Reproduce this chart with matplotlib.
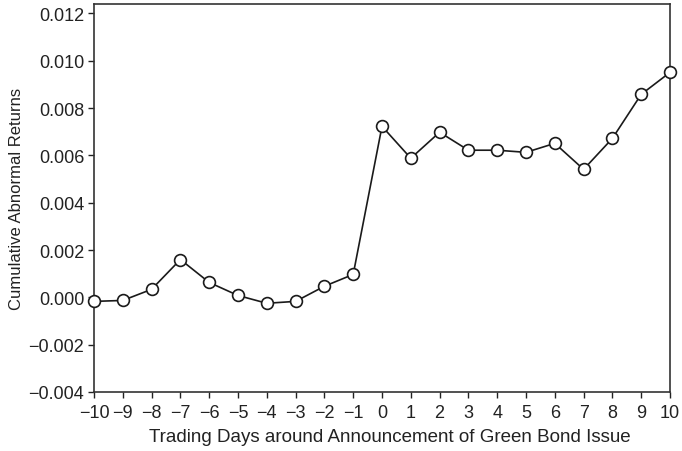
import matplotlib
matplotlib.use("Agg")
import matplotlib.pyplot as plt

days = list(range(-10, 11))
car = [-0.00017, -0.00013, 0.00034, 0.0016, 0.00063, 0.00008, -0.00025, -0.00017,
       0.00047, 0.00097, 0.00723, 0.00588, 0.00698, 0.00622, 0.00622, 0.00613,
       0.00651, 0.00541, 0.00672, 0.00858, 0.00951]
yticks = [-0.004, -0.002, 0.0, 0.002, 0.004, 0.006, 0.008, 0.010, 0.012]

plt.rcParams['font.family'] = ['Liberation Sans', 'DejaVu Sans']
fig = plt.figure(figsize=(6.82, 4.52), dpi=100)
ax = fig.add_axes([94/682, 1-393/452, (670-94)/682, (393-5)/452])
ax.plot(days, car, color='#1a1a1a', lw=1.2, marker='o', ms=8.5,
        mfc='white', mec='#1a1a1a', mew=1.2, clip_on=False, zorder=3)
ax.set_xlim(-10, 10)
ax.set_ylim(-0.004, 0.0124)
ax.set_xticks(days)
ax.set_xticklabels([str(d).replace('-', '\u2212') for d in days])
ax.set_yticks(yticks)
ax.set_yticklabels([f"{v:.3f}".replace('-', '\u2212') for v in yticks])
ax.tick_params(direction='out', length=4, width=1, labelsize=13, colors='#222222', pad=3)
ax.tick_params(axis='x', pad=4.5)
for s in ax.spines.values():
    s.set_linewidth(1.2)
    s.set_color('#333333')
ax.set_xlabel('Trading Days around Announcement of Green Bond Issue', fontsize=13.5, labelpad=5, color='#222222')
ax.xaxis.label.set_x(0.5 + 8/576)
ax.set_ylabel('Cumulative Abnormal Returns', fontsize=12, labelpad=3, color='#222222')
fig.savefig('out.png', dpi=100)
